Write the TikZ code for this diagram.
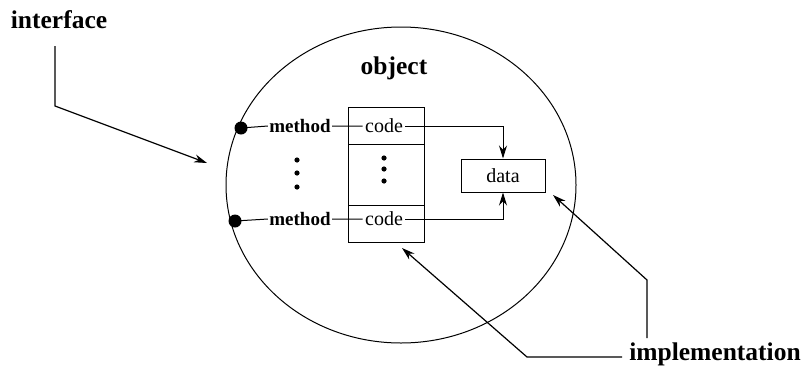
\documentclass[tikz,border=0pt]{standalone}
\usepackage{fontspec}
\setmainfont{Liberation Serif}
\usetikzlibrary{arrows.meta}
\tikzset{
  big/.style={font=\fontsize{25.5}{28}\selectfont\bfseries},
  lbl/.style={font=\fontsize{19}{22}\selectfont\bfseries,inner sep=1pt},
  txt/.style={font=\fontsize{20}{22}\selectfont,inner sep=2pt},
  pnt/.style={-{Stealth[length=13pt,width=8pt]},line width=1.2pt}
}
\begin{document}
\begin{tikzpicture}[x=1pt,y=-1pt,line width=1pt]
      \useasboundingbox (0,0) rectangle (802,370);
      \draw (401,185) ellipse [x radius=175,y radius=158];
      \node[big] (obj) at (394,68) {object};
      \node[big] (iface) at (59,20) {interface};
      \node[big] (impl) at (715,354) {implementation};
      % code column
      \node[draw,minimum width=76pt,minimum height=135pt,inner sep=0pt] (col) at (386,174.5) {};
      \draw (348,144)--(424,144) (348,205)--(424,205);
      \node[txt] (code1) at (384,126) {code};
      \node[txt] (code2) at (384,219) {code};
      \node[draw,txt,minimum width=84pt,minimum height=33pt] (data) at (503,175.5) {data};
      % methods
      \node[lbl] (meth1) at (300,126) {method};
      \node[lbl] (meth2) at (300,219) {method};
      \fill (241,128) circle (6.5) coordinate (dot1);
      \fill (235,221) circle (6.5) coordinate (dot2);
      \draw (dot1)--(meth1.west) (meth1.east)--(code1.west);
      \draw (dot2)--(meth2.west) (meth2.east)--(code2.west);
      \foreach \y in {160,173,187} \fill (297,\y) circle (2.6);
      \foreach \y in {158,169,181} \fill (384,\y) circle (2.6);
      \draw[pnt,line width=1pt] (code1.east)-|(data.north);
      \draw[pnt,line width=1pt] (code2.east)-|(data.south);
      % pointers
      \coordinate (i1) at (55,46); \coordinate (i2) at (207,163);
      \draw[pnt] (i1)--(55,106)--(i2);
      \coordinate (c1) at (622,357); \coordinate (c2) at (402,248);
      \draw[pnt] (c1)--(527,357)--(c2);
      \coordinate (d1) at (647,338); \coordinate (d2) at (553,195);
      \draw[pnt] (d1)--(647,280)--(d2);
    \end{tikzpicture}
\end{document}
